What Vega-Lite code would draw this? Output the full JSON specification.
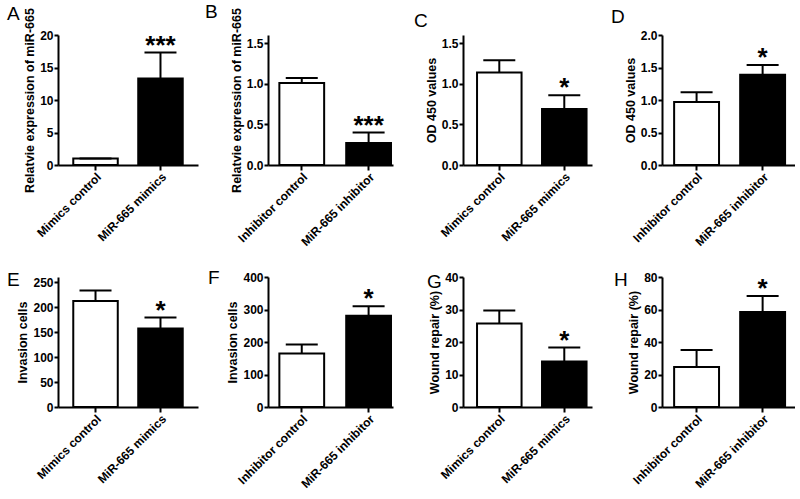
{
  "$schema": "https://vega.github.io/schema/vega-lite/v6.json",
  "padding": {"left": 7, "top": 2, "right": 0, "bottom": 0},
  "background": "white",
  "datasets": {
    "bars": [
      {"panel": "A", "label": "Mimics control", "kind": "control", "mean": 1.0, "upper": 1.0, "sig": ""},
      {"panel": "A", "label": "MiR-665 mimics", "kind": "treated", "mean": 13.3, "upper": 17.3, "sig": "***"},
      {"panel": "B", "label": "Inhibitor control", "kind": "control", "mean": 1.01, "upper": 1.07, "sig": ""},
      {"panel": "B", "label": "MiR-665 inhibitor", "kind": "treated", "mean": 0.27, "upper": 0.40, "sig": "***"},
      {"panel": "C", "label": "Mimics control", "kind": "control", "mean": 1.14, "upper": 1.29, "sig": ""},
      {"panel": "C", "label": "MiR-665 mimics", "kind": "treated", "mean": 0.69, "upper": 0.86, "sig": "*"},
      {"panel": "D", "label": "Inhibitor control", "kind": "control", "mean": 0.97, "upper": 1.12, "sig": ""},
      {"panel": "D", "label": "MiR-665 inhibitor", "kind": "treated", "mean": 1.39, "upper": 1.54, "sig": "*"},
      {"panel": "E", "label": "Mimics control", "kind": "control", "mean": 212, "upper": 233, "sig": ""},
      {"panel": "E", "label": "MiR-665 mimics", "kind": "treated", "mean": 157, "upper": 179, "sig": "*"},
      {"panel": "F", "label": "Inhibitor control", "kind": "control", "mean": 165, "upper": 192, "sig": ""},
      {"panel": "F", "label": "MiR-665 inhibitor", "kind": "treated", "mean": 281, "upper": 310, "sig": "*"},
      {"panel": "G", "label": "Mimics control", "kind": "control", "mean": 25.7, "upper": 29.7, "sig": ""},
      {"panel": "G", "label": "MiR-665 mimics", "kind": "treated", "mean": 14.0, "upper": 18.3, "sig": "*"},
      {"panel": "H", "label": "Inhibitor control", "kind": "control", "mean": 24.6, "upper": 35.1, "sig": ""},
      {"panel": "H", "label": "MiR-665 inhibitor", "kind": "treated", "mean": 58.4, "upper": 68.3, "sig": "*"}
    ]
  },
  "data": {"name": "bars"},
  "bounds": "flush",
  "columns": 4,
  "spacing": {"row": 112, "column": 70},
  "concat": [
    {
      "title": {"text": "A", "dx": -51, "dy": 20},
      "width": 140, "height": 130,
      "transform": [{"filter": "datum.panel === 'A'"}],
      "encoding": {"x": {"field": "label", "type": "nominal", "sort": null, "scale": {"paddingInner": 0.315, "paddingOuter": 0.235, "align": 0.5}, "axis": {"title": null}}},
      "layer": [
        {"mark": {"type": "bar", "stroke": "black", "strokeWidth": 2}, "encoding": {"y": {"field": "mean", "type": "quantitative", "scale": {"domain": [0, 20]}, "axis": {"title": "Relatvie expression of miR-665", "values": [0, 5, 10, 15, 20]}}, "fill": {"field": "kind", "type": "nominal", "scale": {"domain": ["control", "treated"], "range": ["white", "black"]}, "legend": null}}},
        {"mark": {"type": "rule", "strokeWidth": 2, "color": "black"}, "encoding": {"y": {"field": "mean", "type": "quantitative", "axis": {"title": "Relatvie expression of miR-665", "values": [0, 5, 10, 15, 20]}}, "y2": {"field": "upper"}}},
        {"mark": {"type": "tick", "thickness": 2, "size": 32, "color": "black", "opacity": 1}, "encoding": {"y": {"field": "upper", "type": "quantitative", "axis": {"title": "Relatvie expression of miR-665", "values": [0, 5, 10, 15, 20]}}}},
        {"mark": {"type": "text", "fontSize": 26, "fontWeight": "bold", "baseline": "alphabetic", "dy": 1, "color": "black"}, "encoding": {"y": {"field": "upper", "type": "quantitative", "axis": {"title": "Relatvie expression of miR-665", "values": [0, 5, 10, 15, 20]}}, "text": {"field": "sig"}}}
      ]
    },
    {
      "title": {"text": "B", "dx": -63, "dy": 18},
      "width": 125, "height": 130,
      "transform": [{"filter": "datum.panel === 'B'"}],
      "encoding": {"x": {"field": "label", "type": "nominal", "sort": null, "scale": {"paddingInner": 0.33, "paddingOuter": 0.1, "align": 0.85}, "axis": {"title": null}}},
      "layer": [
        {"mark": {"type": "bar", "stroke": "black", "strokeWidth": 2}, "encoding": {"y": {"field": "mean", "type": "quantitative", "scale": {"domain": [0, 1.5]}, "axis": {"title": "Relatvie expression of miR-665", "values": [0, 0.5, 1, 1.5], "format": ".1f"}}, "fill": {"field": "kind", "type": "nominal", "scale": {"domain": ["control", "treated"], "range": ["white", "black"]}, "legend": null}}},
        {"mark": {"type": "rule", "strokeWidth": 2, "color": "black"}, "encoding": {"y": {"field": "mean", "type": "quantitative", "axis": {"title": "Relatvie expression of miR-665", "values": [0, 0.5, 1, 1.5], "format": ".1f"}}, "y2": {"field": "upper"}}},
        {"mark": {"type": "tick", "thickness": 2, "size": 32, "color": "black", "opacity": 1}, "encoding": {"y": {"field": "upper", "type": "quantitative", "axis": {"title": "Relatvie expression of miR-665", "values": [0, 0.5, 1, 1.5], "format": ".1f"}}}},
        {"mark": {"type": "text", "fontSize": 26, "fontWeight": "bold", "baseline": "alphabetic", "dy": 1, "color": "black"}, "encoding": {"y": {"field": "upper", "type": "quantitative", "axis": {"title": "Relatvie expression of miR-665", "values": [0, 0.5, 1, 1.5], "format": ".1f"}}, "text": {"field": "sig"}}}
      ]
    },
    {
      "title": {"text": "C", "dx": -49, "dy": 0},
      "width": 129, "height": 130,
      "transform": [{"filter": "datum.panel === 'C'"}],
      "encoding": {"x": {"field": "label", "type": "nominal", "sort": null, "scale": {"paddingInner": 0.315, "paddingOuter": 0.15, "align": 0.72}, "axis": {"title": null}}},
      "layer": [
        {"mark": {"type": "bar", "stroke": "black", "strokeWidth": 2}, "encoding": {"y": {"field": "mean", "type": "quantitative", "scale": {"domain": [0, 1.5]}, "axis": {"title": "OD 450 values", "values": [0, 0.5, 1, 1.5], "format": ".1f"}}, "fill": {"field": "kind", "type": "nominal", "scale": {"domain": ["control", "treated"], "range": ["white", "black"]}, "legend": null}}},
        {"mark": {"type": "rule", "strokeWidth": 2, "color": "black"}, "encoding": {"y": {"field": "mean", "type": "quantitative", "axis": {"title": "OD 450 values", "values": [0, 0.5, 1, 1.5], "format": ".1f"}}, "y2": {"field": "upper"}}},
        {"mark": {"type": "tick", "thickness": 2, "size": 32, "color": "black", "opacity": 1}, "encoding": {"y": {"field": "upper", "type": "quantitative", "axis": {"title": "OD 450 values", "values": [0, 0.5, 1, 1.5], "format": ".1f"}}}},
        {"mark": {"type": "text", "fontSize": 26, "fontWeight": "bold", "baseline": "alphabetic", "dy": 1, "color": "black"}, "encoding": {"y": {"field": "upper", "type": "quantitative", "axis": {"title": "OD 450 values", "values": [0, 0.5, 1, 1.5], "format": ".1f"}}, "text": {"field": "sig"}}}
      ]
    },
    {
      "title": {"text": "D", "dx": -51, "dy": 2},
      "width": 133, "height": 130,
      "transform": [{"filter": "datum.panel === 'D'"}],
      "encoding": {"x": {"field": "label", "type": "nominal", "sort": null, "scale": {"paddingInner": 0.32, "paddingOuter": 0.167, "align": 0.55}, "axis": {"title": null}}},
      "layer": [
        {"mark": {"type": "bar", "stroke": "black", "strokeWidth": 2}, "encoding": {"y": {"field": "mean", "type": "quantitative", "scale": {"domain": [0, 2]}, "axis": {"title": "OD 450 values", "values": [0, 0.5, 1, 1.5, 2], "format": ".1f"}}, "fill": {"field": "kind", "type": "nominal", "scale": {"domain": ["control", "treated"], "range": ["white", "black"]}, "legend": null}}},
        {"mark": {"type": "rule", "strokeWidth": 2, "color": "black"}, "encoding": {"y": {"field": "mean", "type": "quantitative", "axis": {"title": "OD 450 values", "values": [0, 0.5, 1, 1.5, 2], "format": ".1f"}}, "y2": {"field": "upper"}}},
        {"mark": {"type": "tick", "thickness": 2, "size": 32, "color": "black", "opacity": 1}, "encoding": {"y": {"field": "upper", "type": "quantitative", "axis": {"title": "OD 450 values", "values": [0, 0.5, 1, 1.5, 2], "format": ".1f"}}}},
        {"mark": {"type": "text", "fontSize": 26, "fontWeight": "bold", "baseline": "alphabetic", "dy": 1, "color": "black"}, "encoding": {"y": {"field": "upper", "type": "quantitative", "axis": {"title": "OD 450 values", "values": [0, 0.5, 1, 1.5, 2], "format": ".1f"}}, "text": {"field": "sig"}}}
      ]
    },
    {
      "title": {"text": "E", "dx": -51, "dy": 23},
      "width": 140, "height": 130,
      "transform": [{"filter": "datum.panel === 'E'"}],
      "encoding": {"x": {"field": "label", "type": "nominal", "sort": null, "scale": {"paddingInner": 0.315, "paddingOuter": 0.235, "align": 0.5}, "axis": {"title": null}}},
      "layer": [
        {"mark": {"type": "bar", "stroke": "black", "strokeWidth": 2}, "encoding": {"y": {"field": "mean", "type": "quantitative", "scale": {"domain": [0, 250]}, "axis": {"title": "Invasion cells", "values": [0, 50, 100, 150, 200, 250]}}, "fill": {"field": "kind", "type": "nominal", "scale": {"domain": ["control", "treated"], "range": ["white", "black"]}, "legend": null}}},
        {"mark": {"type": "rule", "strokeWidth": 2, "color": "black"}, "encoding": {"y": {"field": "mean", "type": "quantitative", "axis": {"title": "Invasion cells", "values": [0, 50, 100, 150, 200, 250]}}, "y2": {"field": "upper"}}},
        {"mark": {"type": "tick", "thickness": 2, "size": 32, "color": "black", "opacity": 1}, "encoding": {"y": {"field": "upper", "type": "quantitative", "axis": {"title": "Invasion cells", "values": [0, 50, 100, 150, 200, 250]}}}},
        {"mark": {"type": "text", "fontSize": 26, "fontWeight": "bold", "baseline": "alphabetic", "dy": 1, "color": "black"}, "encoding": {"y": {"field": "upper", "type": "quantitative", "axis": {"title": "Invasion cells", "values": [0, 50, 100, 150, 200, 250]}}, "text": {"field": "sig"}}}
      ]
    },
    {
      "title": {"text": "F", "dx": -60, "dy": 21},
      "width": 125, "height": 130,
      "transform": [{"filter": "datum.panel === 'F'"}],
      "encoding": {"x": {"field": "label", "type": "nominal", "sort": null, "scale": {"paddingInner": 0.33, "paddingOuter": 0.1, "align": 0.85}, "axis": {"title": null}}},
      "layer": [
        {"mark": {"type": "bar", "stroke": "black", "strokeWidth": 2}, "encoding": {"y": {"field": "mean", "type": "quantitative", "scale": {"domain": [0, 400]}, "axis": {"title": "Invasion cells", "values": [0, 100, 200, 300, 400]}}, "fill": {"field": "kind", "type": "nominal", "scale": {"domain": ["control", "treated"], "range": ["white", "black"]}, "legend": null}}},
        {"mark": {"type": "rule", "strokeWidth": 2, "color": "black"}, "encoding": {"y": {"field": "mean", "type": "quantitative", "axis": {"title": "Invasion cells", "values": [0, 100, 200, 300, 400]}}, "y2": {"field": "upper"}}},
        {"mark": {"type": "tick", "thickness": 2, "size": 32, "color": "black", "opacity": 1}, "encoding": {"y": {"field": "upper", "type": "quantitative", "axis": {"title": "Invasion cells", "values": [0, 100, 200, 300, 400]}}}},
        {"mark": {"type": "text", "fontSize": 26, "fontWeight": "bold", "baseline": "alphabetic", "dy": 1, "color": "black"}, "encoding": {"y": {"field": "upper", "type": "quantitative", "axis": {"title": "Invasion cells", "values": [0, 100, 200, 300, 400]}}, "text": {"field": "sig"}}}
      ]
    },
    {
      "title": {"text": "G", "dx": -36, "dy": 25},
      "width": 129, "height": 130,
      "transform": [{"filter": "datum.panel === 'G'"}],
      "encoding": {"x": {"field": "label", "type": "nominal", "sort": null, "scale": {"paddingInner": 0.315, "paddingOuter": 0.15, "align": 0.72}, "axis": {"title": null}}},
      "layer": [
        {"mark": {"type": "bar", "stroke": "black", "strokeWidth": 2}, "encoding": {"y": {"field": "mean", "type": "quantitative", "scale": {"domain": [0, 40]}, "axis": {"title": "Wound repair (%)", "values": [0, 10, 20, 30, 40]}}, "fill": {"field": "kind", "type": "nominal", "scale": {"domain": ["control", "treated"], "range": ["white", "black"]}, "legend": null}}},
        {"mark": {"type": "rule", "strokeWidth": 2, "color": "black"}, "encoding": {"y": {"field": "mean", "type": "quantitative", "axis": {"title": "Wound repair (%)", "values": [0, 10, 20, 30, 40]}}, "y2": {"field": "upper"}}},
        {"mark": {"type": "tick", "thickness": 2, "size": 32, "color": "black", "opacity": 1}, "encoding": {"y": {"field": "upper", "type": "quantitative", "axis": {"title": "Wound repair (%)", "values": [0, 10, 20, 30, 40]}}}},
        {"mark": {"type": "text", "fontSize": 26, "fontWeight": "bold", "baseline": "alphabetic", "dy": 1, "color": "black"}, "encoding": {"y": {"field": "upper", "type": "quantitative", "axis": {"title": "Wound repair (%)", "values": [0, 10, 20, 30, 40]}}, "text": {"field": "sig"}}}
      ]
    },
    {
      "title": {"text": "H", "dx": -48, "dy": 23},
      "width": 133, "height": 130,
      "transform": [{"filter": "datum.panel === 'H'"}],
      "encoding": {"x": {"field": "label", "type": "nominal", "sort": null, "scale": {"paddingInner": 0.32, "paddingOuter": 0.167, "align": 0.55}, "axis": {"title": null}}},
      "layer": [
        {"mark": {"type": "bar", "stroke": "black", "strokeWidth": 2}, "encoding": {"y": {"field": "mean", "type": "quantitative", "scale": {"domain": [0, 80]}, "axis": {"title": "Wound repair (%)", "values": [0, 20, 40, 60, 80]}}, "fill": {"field": "kind", "type": "nominal", "scale": {"domain": ["control", "treated"], "range": ["white", "black"]}, "legend": null}}},
        {"mark": {"type": "rule", "strokeWidth": 2, "color": "black"}, "encoding": {"y": {"field": "mean", "type": "quantitative", "axis": {"title": "Wound repair (%)", "values": [0, 20, 40, 60, 80]}}, "y2": {"field": "upper"}}},
        {"mark": {"type": "tick", "thickness": 2, "size": 32, "color": "black", "opacity": 1}, "encoding": {"y": {"field": "upper", "type": "quantitative", "axis": {"title": "Wound repair (%)", "values": [0, 20, 40, 60, 80]}}}},
        {"mark": {"type": "text", "fontSize": 26, "fontWeight": "bold", "baseline": "alphabetic", "dy": 1, "color": "black"}, "encoding": {"y": {"field": "upper", "type": "quantitative", "axis": {"title": "Wound repair (%)", "values": [0, 20, 40, 60, 80]}}, "text": {"field": "sig"}}}
      ]
    }
  ],
  "config": {
    "font": "Liberation Sans",
    "view": {"stroke": null},
    "title": {"fontSize": 19, "fontWeight": "normal", "anchor": "start", "frame": "group", "color": "black", "offset": 4},
    "axis": {"domainColor": "black", "domainWidth": 2, "tickColor": "black", "tickWidth": 2, "labelColor": "black", "labelFontWeight": "bold", "labelFontSize": 12, "titleFontWeight": "bold", "titleFontSize": 12.5, "titleColor": "black", "grid": false, "labelPadding": 1, "labelOverlap": false},
    "axisX": {"labelAngle": -45, "tickSize": 5},
    "axisY": {"tickSize": 4, "titlePadding": 3}
  }
}
